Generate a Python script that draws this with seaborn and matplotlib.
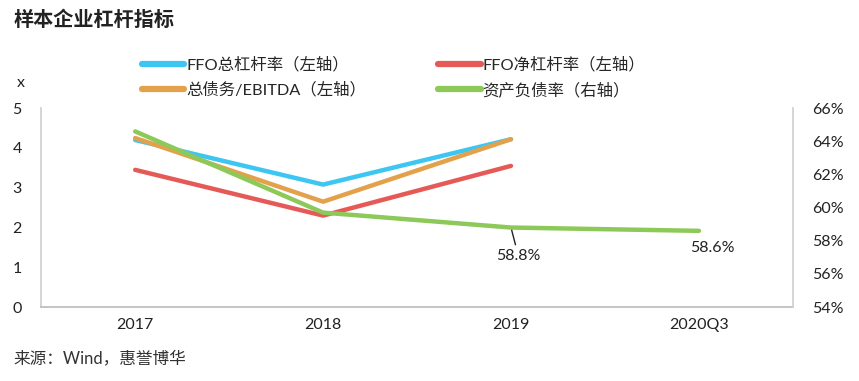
import matplotlib.pyplot as plt
import pandas as pd
import seaborn as sns
from matplotlib.lines import Line2D

categories = ["2017", "2018", "2019", "2020Q3"]
ffo_gross = [4.2, 3.08, 4.22, None]
ffo_net = [3.45, 2.3, 3.55, None]
debt_ebitda = [4.25, 2.65, 4.22, None]
debt_ratio = [0.646, 0.597, 0.588, 0.586]

left_names = ["FFO总杠杆率（左轴）", "FFO净杠杆率（左轴）", "总债务/EBITDA（左轴）"]
right_name = "资产负债率（右轴）"
colors = {
    "FFO总杠杆率（左轴）": "#3ec6f3",
    "FFO净杠杆率（左轴）": "#e55a57",
    "总债务/EBITDA（左轴）": "#e4a14c",
    right_name: "#8cc958",
}

sns.set_theme(style="white")
plt.rcParams["font.family"] = ["Lato", "Noto Sans CJK SC", "DejaVu Sans"]

rows = []
for name, vals in zip(left_names, [ffo_gross, ffo_net, debt_ebitda]):
    for c, v in zip(categories, vals):
        if v is not None:
            rows.append({"cat": c, "value": v, "series": name})
left_df = pd.DataFrame(rows)
right_df = pd.DataFrame({"cat": categories, "value": debt_ratio})

fig = plt.figure(figsize=(8.59, 3.81), dpi=100)
ax = fig.add_axes([0.048, 0.194, 0.875, 0.522])

sns.lineplot(data=left_df, x="cat", y="value", hue="series", hue_order=left_names,
             palette=colors, linewidth=3.2, sort=False, ax=ax, legend=False)
ax.set_xlim(-0.5, 3.5)
ax.set_ylim(0, 5)
ax.set_yticks(range(0, 6))

ax2 = ax.twinx()
sns.lineplot(data=right_df, x="cat", y="value", color=colors[right_name],
             linewidth=3.2, sort=False, ax=ax2)
ax2.set_ylim(0.54, 0.66)
ax2.set_yticks([0.54, 0.56, 0.58, 0.60, 0.62, 0.64, 0.66])
ax2.set_yticklabels([f"{int(round(t * 100))}%" for t in ax2.get_yticks()])
ax2.set_xlim(-0.5, 3.5)

for a in (ax, ax2):
    a.set_xlabel("")
    a.set_ylabel("")
    a.tick_params(length=0, labelsize=11.5, colors="#222222")
    for s in a.spines.values():
        s.set_visible(False)
ax.tick_params(axis="x", pad=8)
ax.tick_params(axis="y", pad=14)
ax2.tick_params(axis="y", pad=14)
ax.spines["left"].set_visible(True)
ax.spines["left"].set_color("#d0d0d0")
ax.spines["bottom"].set_visible(True)
ax.spines["bottom"].set_color("#bdbdbd")
ax2.spines["right"].set_visible(True)
ax2.spines["right"].set_color("#d0d0d0")

# labels on the debt ratio line
ax2.annotate(f"{debt_ratio[2] * 100:.1f}%", xy=(2, debt_ratio[2]),
             xytext=(2.04, 0.5706), ha="center", va="center", fontsize=11.5,
             color="#222222",
             arrowprops=dict(arrowstyle="-", color="#222222", lw=1,
                             shrinkA=1, shrinkB=2))
ax2.text(3.07, 0.5754, f"{debt_ratio[3] * 100:.1f}%", ha="center", va="center",
         fontsize=11.5, color="#222222")

order = [left_names[0], left_names[2], left_names[1], right_name]
handles = [Line2D([], [], color=colors[n], lw=4.5, solid_capstyle="round")
           for n in order]
fig.legend(handles, order, loc="upper center", bbox_to_anchor=(0.458, 0.89),
           ncol=2, frameon=False, fontsize=11.8, handlelength=2.6,
           handletextpad=0.1, columnspacing=4.4, labelspacing=0.6)

fig.text(0.016, 0.948, "样本企业杠杆指标", fontsize=14.5, fontweight="bold",
         color="#222222", va="center")
fig.text(0.02, 0.783, "x", fontsize=11.5, color="#222222", va="center")
fig.text(0.016, 0.06, "来源：Wind，惠誉博华", fontsize=12, color="#333333",
         va="center")

fig.savefig("out.png", dpi=100)
